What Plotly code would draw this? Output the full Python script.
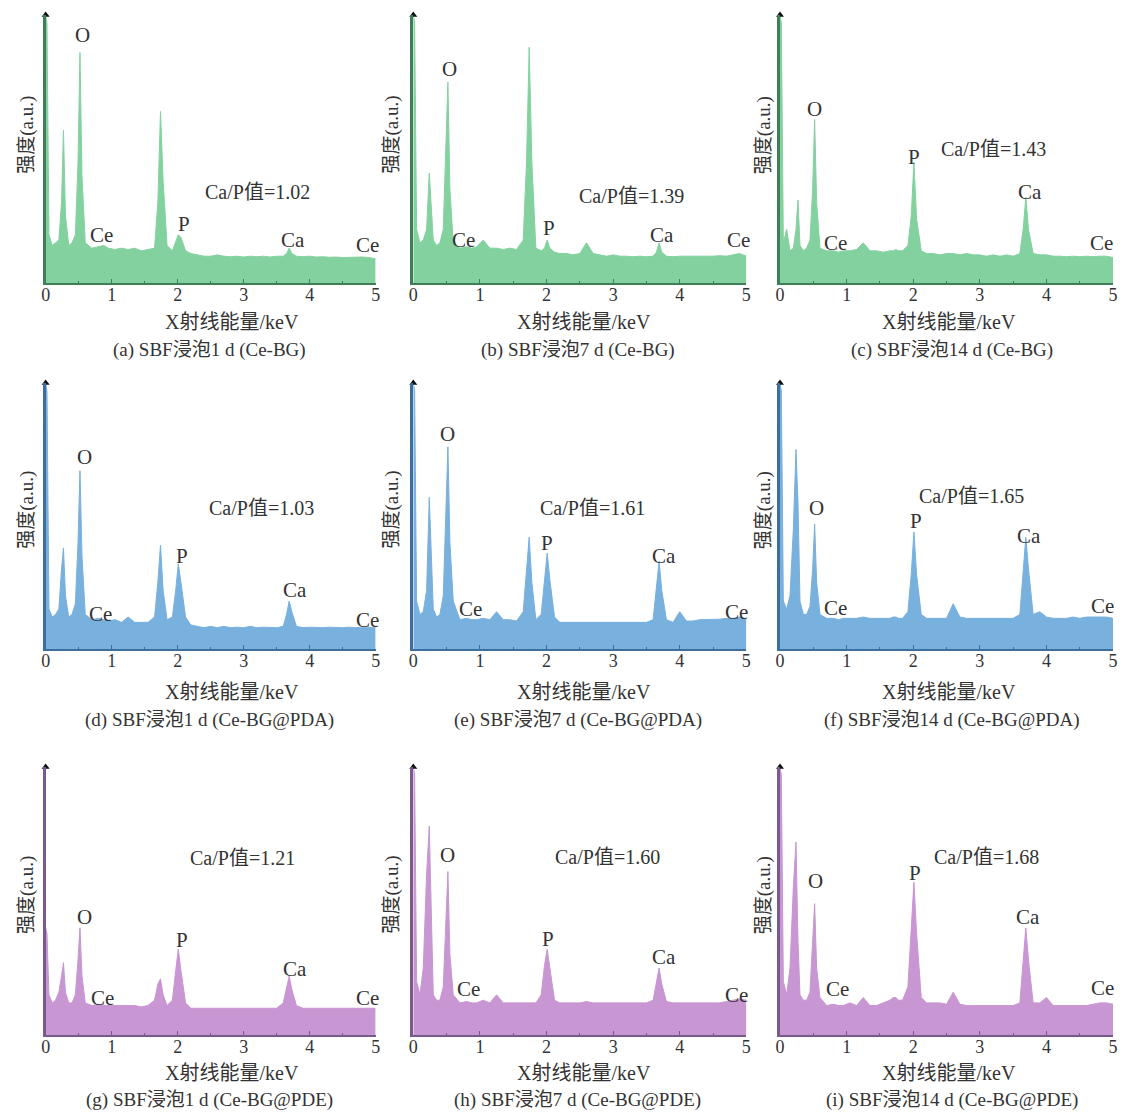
import plotly.graph_objects as go

# ---------------- data ----------------
ENERGY_KEV = [0.00, 0.02, 0.05, 0.10, 0.15, 0.20, 0.24, 0.27, 0.30, 0.35,
              0.40, 0.45, 0.49, 0.52, 0.55, 0.60, 0.70, 0.80, 0.88, 0.95,
              1.05, 1.15, 1.25, 1.35, 1.45, 1.55, 1.65, 1.70, 1.74, 1.78,
              1.84, 1.92, 1.97, 2.01, 2.05, 2.12, 2.20, 2.30, 2.40, 2.50,
              2.60, 2.70, 2.80, 2.90, 3.00, 3.10, 3.20, 3.30, 3.40, 3.50,
              3.60, 3.65, 3.69, 3.73, 3.80, 3.90, 4.00, 4.10, 4.20, 4.30,
              4.40, 4.50, 4.60, 4.70, 4.80, 4.90, 5.00]

I_A = [1.00, 0.97, 0.18, 0.14, 0.15, 0.16, 0.30, 0.57, 0.25, 0.14,
       0.15, 0.18, 0.45, 0.86, 0.40, 0.15, 0.13, 0.135, 0.14, 0.13,
       0.125, 0.13, 0.125, 0.13, 0.12, 0.125, 0.13, 0.30, 0.64, 0.38,
       0.14, 0.12, 0.15, 0.18, 0.17, 0.12, 0.11, 0.105, 0.10, 0.10,
       0.105, 0.10, 0.098, 0.10, 0.097, 0.10, 0.098, 0.10, 0.097, 0.10,
       0.10, 0.11, 0.13, 0.11, 0.10, 0.098, 0.10, 0.097, 0.098, 0.096,
       0.097, 0.095, 0.096, 0.095, 0.097, 0.095, 0.09]
I_B = [1.00, 0.97, 0.20, 0.15, 0.16, 0.20, 0.41, 0.30, 0.16, 0.14,
       0.15, 0.20, 0.50, 0.75, 0.35, 0.15, 0.13, 0.135, 0.13, 0.135,
       0.16, 0.13, 0.13, 0.125, 0.13, 0.125, 0.16, 0.45, 0.88, 0.45,
       0.13, 0.12, 0.13, 0.16, 0.13, 0.115, 0.11, 0.11, 0.105, 0.11,
       0.15, 0.11, 0.105, 0.10, 0.105, 0.10, 0.10, 0.098, 0.10, 0.098,
       0.10, 0.115, 0.15, 0.115, 0.10, 0.098, 0.10, 0.10, 0.098, 0.10,
       0.10, 0.10, 0.102, 0.10, 0.105, 0.11, 0.10]
I_C = [1.00, 0.97, 0.15, 0.20, 0.12, 0.13, 0.20, 0.31, 0.14, 0.12,
       0.13, 0.16, 0.35, 0.61, 0.30, 0.13, 0.12, 0.12, 0.115, 0.12,
       0.12, 0.125, 0.15, 0.12, 0.12, 0.115, 0.12, 0.12, 0.125, 0.12,
       0.12, 0.14, 0.25, 0.45, 0.24, 0.12, 0.11, 0.11, 0.105, 0.11,
       0.11, 0.105, 0.11, 0.105, 0.105, 0.10, 0.105, 0.10, 0.105, 0.10,
       0.11, 0.20, 0.32, 0.20, 0.11, 0.105, 0.105, 0.10, 0.10, 0.098,
       0.10, 0.098, 0.10, 0.098, 0.10, 0.10, 0.095]
I_D = [1.00, 0.97, 0.15, 0.12, 0.13, 0.15, 0.30, 0.38, 0.20, 0.12,
       0.13, 0.17, 0.40, 0.67, 0.35, 0.13, 0.11, 0.115, 0.11, 0.105,
       0.11, 0.10, 0.12, 0.10, 0.10, 0.10, 0.12, 0.25, 0.39, 0.22,
       0.11, 0.12, 0.22, 0.32, 0.25, 0.12, 0.09, 0.085, 0.08, 0.085,
       0.08, 0.085, 0.08, 0.082, 0.08, 0.085, 0.08, 0.082, 0.08, 0.08,
       0.085, 0.13, 0.18, 0.14, 0.085, 0.08, 0.082, 0.08, 0.08, 0.082,
       0.08, 0.08, 0.082, 0.08, 0.082, 0.08, 0.08]
I_E = [1.00, 0.97, 0.18, 0.13, 0.14, 0.22, 0.57, 0.35, 0.15, 0.12,
       0.13, 0.20, 0.55, 0.76, 0.40, 0.18, 0.11, 0.115, 0.11, 0.11,
       0.115, 0.11, 0.14, 0.11, 0.11, 0.105, 0.14, 0.30, 0.42, 0.25,
       0.11, 0.13, 0.25, 0.36, 0.26, 0.12, 0.10, 0.10, 0.10, 0.098,
       0.10, 0.10, 0.098, 0.10, 0.10, 0.098, 0.10, 0.10, 0.098, 0.10,
       0.11, 0.22, 0.33, 0.22, 0.11, 0.10, 0.14, 0.105, 0.105, 0.11,
       0.11, 0.11, 0.112, 0.115, 0.115, 0.12, 0.11]
I_F = [1.00, 0.97, 0.18, 0.15, 0.20, 0.45, 0.75, 0.55, 0.18, 0.13,
       0.13, 0.16, 0.30, 0.47, 0.25, 0.13, 0.115, 0.115, 0.11, 0.115,
       0.115, 0.115, 0.12, 0.115, 0.115, 0.115, 0.115, 0.12, 0.12, 0.115,
       0.115, 0.14, 0.28, 0.44, 0.28, 0.13, 0.115, 0.115, 0.115, 0.115,
       0.17, 0.12, 0.115, 0.115, 0.115, 0.115, 0.115, 0.115, 0.115, 0.115,
       0.13, 0.28, 0.42, 0.30, 0.13, 0.14, 0.12, 0.115, 0.115, 0.115,
       0.12, 0.115, 0.12, 0.12, 0.12, 0.12, 0.115]
I_G = [0.40, 0.38, 0.15, 0.12, 0.13, 0.16, 0.22, 0.27, 0.16, 0.12,
       0.12, 0.15, 0.28, 0.40, 0.22, 0.12, 0.11, 0.115, 0.11, 0.11,
       0.11, 0.11, 0.11, 0.11, 0.105, 0.11, 0.13, 0.19, 0.21, 0.15,
       0.11, 0.13, 0.24, 0.32, 0.24, 0.12, 0.10, 0.10, 0.10, 0.098,
       0.10, 0.10, 0.098, 0.10, 0.10, 0.098, 0.10, 0.10, 0.10, 0.10,
       0.12, 0.17, 0.22, 0.17, 0.11, 0.10, 0.10, 0.10, 0.10, 0.10,
       0.10, 0.10, 0.10, 0.10, 0.10, 0.10, 0.10]
I_H = [1.00, 0.97, 0.20, 0.15, 0.25, 0.60, 0.78, 0.40, 0.15, 0.13,
       0.13, 0.18, 0.45, 0.61, 0.30, 0.15, 0.12, 0.125, 0.12, 0.12,
       0.13, 0.12, 0.15, 0.12, 0.12, 0.12, 0.12, 0.12, 0.12, 0.12,
       0.12, 0.15, 0.26, 0.32, 0.25, 0.13, 0.12, 0.12, 0.12, 0.12,
       0.125, 0.12, 0.12, 0.12, 0.12, 0.12, 0.12, 0.12, 0.12, 0.12,
       0.13, 0.19, 0.25, 0.19, 0.125, 0.12, 0.12, 0.12, 0.12, 0.12,
       0.12, 0.12, 0.12, 0.125, 0.13, 0.135, 0.13]
I_I = [1.00, 0.97, 0.20, 0.15, 0.25, 0.55, 0.72, 0.35, 0.15, 0.13,
       0.13, 0.16, 0.35, 0.49, 0.25, 0.14, 0.11, 0.115, 0.11, 0.11,
       0.12, 0.11, 0.14, 0.11, 0.11, 0.12, 0.13, 0.14, 0.14, 0.13,
       0.13, 0.18, 0.38, 0.57, 0.38, 0.14, 0.12, 0.12, 0.12, 0.115,
       0.16, 0.115, 0.11, 0.11, 0.11, 0.11, 0.11, 0.11, 0.11, 0.11,
       0.12, 0.28, 0.40, 0.28, 0.12, 0.12, 0.14, 0.11, 0.11, 0.11,
       0.11, 0.11, 0.11, 0.115, 0.12, 0.12, 0.115]

SPECTRA = [I_A, I_B, I_C, I_D, I_E, I_F, I_G, I_H, I_I]
PANEL_LETTERS = ["a", "b", "c", "d", "e", "f", "g", "h", "i"]
SOAK_DAYS = ["1", "7", "14", "1", "7", "14", "1", "7", "14"]
SAMPLES = ["Ce-BG", "Ce-BG", "Ce-BG",
           "Ce-BG@PDA", "Ce-BG@PDA", "Ce-BG@PDA",
           "Ce-BG@PDE", "Ce-BG@PDE", "Ce-BG@PDE"]
CA_P_RATIO = ["1.02", "1.39", "1.43", "1.03", "1.61", "1.65", "1.21", "1.60", "1.68"]
X_TICKS = [0, 1, 2, 3, 4, 5]
ELEMENTS = ["O", "Ce", "P", "Ca", "Ce"]

# ---------------- label placement (data coords) ----------------
ELEMENT_POS = [
    [(0.56, 0.925), (0.84, 0.18), (2.09, 0.22), (3.75, 0.16), (4.88, 0.14)],
    [(0.54, 0.80), (0.76, 0.16), (2.04, 0.205), (3.73, 0.18), (4.88, 0.16)],
    [(0.52, 0.65), (0.83, 0.15), (2.01, 0.47), (3.75, 0.34), (4.82, 0.15)],
    [(0.585, 0.72), (0.83, 0.13), (2.07, 0.35), (3.78, 0.22), (4.88, 0.11)],
    [(0.52, 0.81), (0.86, 0.15), (2.01, 0.40), (3.76, 0.35), (4.85, 0.14)],
    [(0.55, 0.53), (0.83, 0.155), (2.04, 0.48), (3.74, 0.425), (4.84, 0.16)],
    [(0.585, 0.44), (0.86, 0.14), (2.07, 0.355), (3.78, 0.245), (4.88, 0.14)],
    [(0.52, 0.67), (0.83, 0.17), (2.02, 0.36), (3.76, 0.29), (4.85, 0.15)],
    [(0.54, 0.575), (0.86, 0.17), (2.02, 0.605), (3.73, 0.44), (4.84, 0.175)],
]
RATIO_POS = [(3.21, 0.34), (3.27, 0.325), (3.21, 0.50),
             (3.27, 0.53), (2.69, 0.53), (2.87, 0.575),
             (2.99, 0.66), (2.92, 0.665), (3.10, 0.665)]

ROW_FILL = ["#84d1a0", "#78b0de", "#c896d2"]
ROW_AXIS = ["#3f7f57", "#3d6f9c", "#7a5a8c"]
COL_DOM = [(0.0365, 0.3327), (0.3665, 0.6655), (0.6957, 0.9947)]
ROW_DOM = [(0.7455, 0.9865), (0.4164, 0.6556), (0.0692, 0.3103)]
XTITLE_X = [0.204, 0.520, 0.847]
CAPTION_X = [0.184, 0.514, 0.850]
XTITLE_Y = [1 - 322 / 1112, 1 - 692 / 1112, 1 - 1073 / 1112]
CAPTION_Y = [1 - 350 / 1112, 1 - 720 / 1112, 1 - 1100 / 1112]
YTITLE_X = [0.0196, 0.347, 0.6815]
YTITLE_Y = [0.8786, 0.5414, 0.1951]

FONT = "Liberation Serif, Noto Sans CJK SC, serif"
TXT = "#333333"

fig = go.Figure()
annotations = []
layout = {}


def ann(**kw):
    kw.setdefault("showarrow", False)
    kw.setdefault("xanchor", "center")
    kw.setdefault("yanchor", "middle")
    annotations.append(kw)


for k in range(9):
    r, c = divmod(k, 3)
    n = "" if k == 0 else str(k + 1)
    xa, ya = "x" + n, "y" + n
    fig.add_trace(go.Scatter(
        x=ENERGY_KEV, y=SPECTRA[k], mode="lines", fill="tozeroy",
        line=dict(color=ROW_FILL[r], width=1), fillcolor=ROW_FILL[r],
        xaxis=xa, yaxis=ya, showlegend=False, hoverinfo="skip"))
    fig.add_trace(go.Scatter(
        x=[0], y=[1.0], mode="markers", marker=dict(symbol="triangle-up", size=7, color="#111"),
        xaxis=xa, yaxis=ya, showlegend=False, cliponaxis=False, hoverinfo="skip"))
    layout["xaxis" + n] = dict(
        domain=COL_DOM[c], anchor=ya, range=[0, 5], tickvals=X_TICKS,
        ticktext=[str(t) for t in X_TICKS], ticks="inside", ticklen=4,
        tickcolor=ROW_AXIS[r], showline=True, linecolor=ROW_AXIS[r], linewidth=1.5,
        showgrid=False, zeroline=False, tickfont=dict(family=FONT, size=18, color=TXT),
        ticklabelstandoff=-5,
        minor=dict(tickvals=[0.5, 1.5, 2.5, 3.5, 4.5], ticks="inside", ticklen=2, tickcolor=ROW_AXIS[r]))
    layout["yaxis" + n] = dict(
        domain=ROW_DOM[r], anchor=xa, range=[0, 1.0], showticklabels=False, ticks="",
        showline=True, linecolor=ROW_AXIS[r], linewidth=2.5, showgrid=False, zeroline=False)
    for name, (ex, ey) in zip(ELEMENTS, ELEMENT_POS[k]):
        ann(x=ex, y=ey, xref=xa, yref=ya, text=name,
            font=dict(family=FONT, size=21, color=TXT))
    rx, ry = RATIO_POS[k]
    ann(x=rx, y=ry, xref=xa, yref=ya, text="Ca/P值=" + CA_P_RATIO[k],
        font=dict(family=FONT, size=20, color=TXT))
    ann(x=XTITLE_X[c], y=XTITLE_Y[r], xref="paper", yref="paper", text="X射线能量/keV",
        font=dict(family=FONT, size=20, color=TXT))
    ann(x=CAPTION_X[c], y=CAPTION_Y[r], xref="paper", yref="paper",
        text="(%s) SBF浸泡%s d (%s)" % (PANEL_LETTERS[k], SOAK_DAYS[k], SAMPLES[k]),
        font=dict(family=FONT, size=19, color=TXT))
    ann(x=YTITLE_X[c], y=YTITLE_Y[r], xref="paper", yref="paper", text="强度(a.u.)",
        textangle=-90, font=dict(family=FONT, size=19, color=TXT))

fig.update_layout(width=1124, height=1112, margin=dict(l=0, r=0, t=0, b=0),
                  paper_bgcolor="white", plot_bgcolor="white",
                  annotations=annotations, **layout)
fig.write_html("out.html")
